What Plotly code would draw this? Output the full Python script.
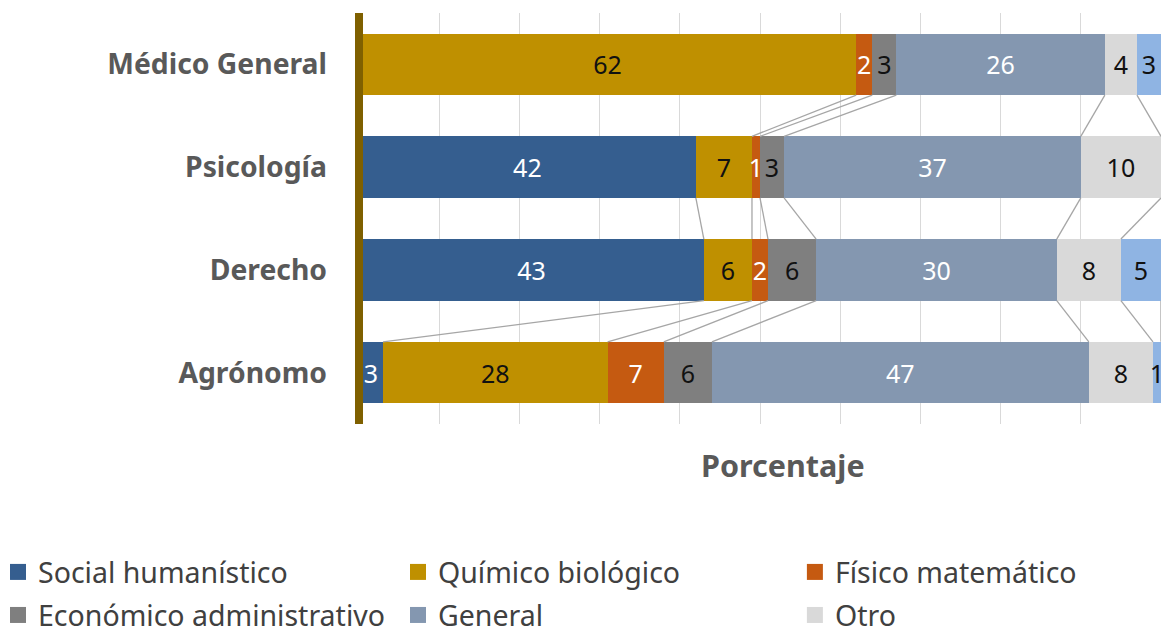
import plotly.graph_objects as go

categories = ["Médico General", "Psicología", "Derecho", "Agrónomo"]
series_names = ["Social humanístico", "Químico biológico", "Físico matemático",
                "Económico administrativo", "General", "Otro", "Sin especificar"]
social = [None, 42, 43, 3]
quimico = [62, 7, 6, 28]
fisico = [2, 1, 2, 7]
economico = [3, 3, 6, 6]
general = [26, 37, 30, 47]
otro = [4, 10, 8, 8]
sin_esp = [3, None, 5, 1]

colors = ["#355E8F", "#BF9000", "#C55A11", "#7F7F7F", "#8497B0", "#D9D9D9", "#8FB4E3"]
text_colors = ["white", "#111111", "white", "#111111", "white", "#111111", "#111111"]
# legend column for each series (None = not shown in legend)
legend_ids = ["legend", "legend2", "legend3", "legend", "legend2", "legend3", None]

all_series = [social, quimico, fisico, economico, general, otro, sin_esp]
ypos = list(range(len(categories)))
bar_w = 0.6

fig = go.Figure()

# series lines (connectors between segment ends of adjacent bars)
cum = []
for i in range(len(categories)):
    run = 0
    row = []
    for s in all_series:
        v = s[i]
        if v is None:
            row.append(None)
        else:
            run += v
            row.append(run)
    cum.append(row)

lx, ly = [], []
for i in range(len(categories) - 1):
    for k in range(len(all_series)):
        a, b = cum[i][k], cum[i + 1][k]
        if a is None or b is None:
            continue
        lx += [a, b, None]
        ly += [ypos[i] + bar_w / 2, ypos[i + 1] - bar_w / 2, None]
fig.add_trace(go.Scatter(x=lx, y=ly, mode="lines", line=dict(color="#A6A6A6", width=1.3),
                         showlegend=False, hoverinfo="skip"))

for name, vals, c, tc in zip(series_names, all_series, colors, text_colors):
    fig.add_trace(go.Bar(
        y=ypos, x=[v if v is not None else 0 for v in vals], name=name, orientation="h",
        marker=dict(color=c, line=dict(width=0)),
        width=bar_w,
        text=[str(v) if v is not None else "" for v in vals],
        textposition="inside", insidetextanchor="middle", constraintext="none",
        textfont=dict(color=tc, size=25, family="Noto Sans"),
        cliponaxis=False,
        showlegend=False,
    ))

# legend entries (square swatches), arranged in three columns
for name, c, lid in zip(series_names, colors, legend_ids):
    if lid is None:
        continue
    fig.add_trace(go.Scatter(x=[None], y=[None], mode="markers", name=name,
                             marker=dict(symbol="square", size=17, color=c),
                             legend=lid, legendgroup=name, showlegend=True))

leg_common = dict(orientation="v", xanchor="left", y=-0.299, yanchor="top",
                  traceorder="grouped", tracegroupgap=3, bgcolor="rgba(0,0,0,0)",
                  font=dict(size=28.5, color="#404040", family="Noto Sans"),
                  itemclick=False, itemdoubleclick=False)

fig.update_layout(
    width=1172, height=633,
    barmode="stack",
    margin=dict(l=359, r=11, t=13, b=209, autoexpand=False),
    plot_bgcolor="white", paper_bgcolor="white",
    font=dict(family="Noto Sans", color="#595959"),
    xaxis=dict(range=[0, 100], dtick=10, showgrid=True, gridcolor="#D9D9D9", gridwidth=1,
               showticklabels=False, zeroline=False, showline=False),
    yaxis=dict(tickvals=ypos, ticktext=["<b>%s</b>" % c for c in categories],
               range=[3.5, -0.5], showgrid=False, zeroline=False, showline=False,
               tickfont=dict(size=28.3, color="#595959", family="Noto Sans"),
               ticklabelstandoff=31),
    shapes=[dict(type="line", xref="paper", yref="paper", x0=0, x1=0, y0=0, y1=1,
                 line=dict(color="#7F6000", width=8), layer="above")],
    legend=dict(x=-0.4501, **leg_common),
    legend2=dict(x=0.0486, **leg_common),
    legend3=dict(x=0.5435, **leg_common),
    annotations=[dict(text="<b>Porcentaje</b>", x=0.529, xref="paper", y=-0.1, yref="paper",
                      xanchor="center", yanchor="middle", showarrow=False,
                      font=dict(size=30.5, color="#595959", family="Noto Sans"))],
)

fig.write_html("out.html", config={"displayModeBar": False},
               post_script="document.body.style.margin='0';")
